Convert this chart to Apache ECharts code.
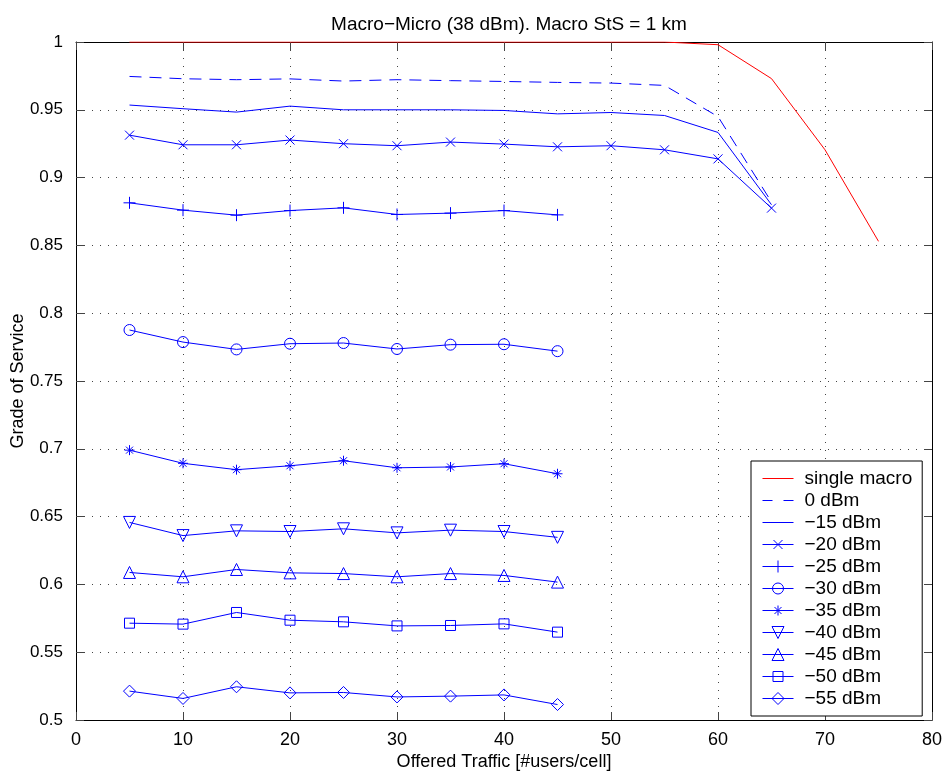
<!DOCTYPE html>
<html>
<head>
<meta charset="utf-8">
<script src="https://cdn.jsdelivr.net/npm/echarts@6/dist/echarts.min.js"></script>
<style>
html,body{margin:0;padding:0;background:#fff;}
#chart{width:946px;height:771px;}
</style>
</head>
<body>
<div id="chart"></div>
<script>
const xTicks = [0,10,20,30,40,50,60,70,80];
const yTicks = [0.5,0.55,0.6,0.65,0.7,0.75,0.8,0.85,0.9,0.95,1];

const xMacro = [5,10,15,20,25,30,35,40,45,50,55,60,65,70,75];
const singleMacro = [1,1,1,1,1,1,1,1,1,1,1,0.998,0.973,0.9205,0.853];

const xLong = [5,10,15,20,25,30,35,40,45,50,55,60,65];
const dbm0  = [0.9746,0.9729,0.9722,0.9728,0.9712,0.9722,0.9715,0.9709,0.9702,0.9697,0.968,0.945,0.882];
const dbm15 = [0.9535,0.9508,0.9483,0.9527,0.950,0.950,0.950,0.9495,0.947,0.948,0.9458,0.9333,0.880];
const dbm20 = [0.9313,0.9242,0.9242,0.9277,0.925,0.9235,0.9262,0.9247,0.9227,0.9235,0.9205,0.9138,0.8775];

const xShort = [5,10,15,20,25,30,35,40,45];
const dbm25 = [0.8814,0.876,0.8723,0.8757,0.8777,0.8728,0.8738,0.8757,0.8725];
const dbm30 = [0.7876,0.7787,0.7733,0.7775,0.778,0.7736,0.7768,0.7771,0.772];
const dbm35 = [0.699,0.6893,0.6846,0.6875,0.6912,0.686,0.6866,0.689,0.6816];
const dbm40 = [0.6457,0.636,0.6395,0.639,0.641,0.638,0.640,0.639,0.6347];
const dbm45 = [0.6088,0.6056,0.611,0.6085,0.608,0.6056,0.608,0.6066,0.6017];
const dbm50 = [0.5714,0.5707,0.5793,0.5736,0.5724,0.5694,0.5697,0.5709,0.5648];
const dbm55 = [0.5213,0.5159,0.5245,0.52,0.5203,0.517,0.5176,0.5185,0.5114];

const names = ['single macro','0 dBm','\u221215 dBm','\u221220 dBm','\u221225 dBm','\u221230 dBm','\u221235 dBm','\u221240 dBm','\u221245 dBm','\u221250 dBm','\u221255 dBm'];

const BLUE = '#0000ff', RED = '#ff0000';
const FONT = '"Liberation Sans", Arial, Helvetica, sans-serif';

function pairs(xs, ys){ return xs.map((x,i)=>[x, ys[i]]); }

const SYM_X = 'path://M0,0L10,10M10,0L0,10';
const SYM_PLUS = 'path://M5,0L5,10M0,5L10,5';
const SYM_STAR = 'path://M5,0L5,10M0,5L10,5M1.5,1.5L8.5,8.5M8.5,1.5L1.5,8.5';
const ICON_LINE = 'path://M0,0L31,0L31,1L0,1Z';
const ICON_DASH = 'path://M0,0L10,0L10,1L0,1ZM21,0L31,0L31,1L21,1Z';
const H = 'M0,6L31,6';
const LEG_ICONS = [
  null, null, null,
  'path://' + H + 'M11,1.5L20,10.5M20,1.5L11,10.5',
  'path://' + H + 'M15.5,0L15.5,12',
  'path://' + H + 'M21,6A5.5,5.5,0,1,1,10,6A5.5,5.5,0,1,1,21,6Z',
  'path://' + H + 'M15.5,1L15.5,11M10.5,6L20.5,6M12,2.5L19,9.5M19,2.5L12,9.5',
  'path://' + H + 'M9.5,0L21.5,0L15.5,12Z',
  'path://' + H + 'M15.5,0L21.5,12L9.5,12Z',
  'path://' + H + 'M10.5,1L20.5,1L20.5,11L10.5,11Z',
  'path://' + H + 'M15.5,0L21.5,6L15.5,12L9.5,6Z'
];

function mk(name, xs, ys, opts){
  const o = Object.assign({symbol:'none', size:10, rotate:0, color:BLUE, dash:'solid'}, opts||{});
  return {
    name: name,
    type: 'line',
    data: pairs(xs, ys),
    symbol: o.symbol,
    symbolSize: o.size,
    symbolRotate: o.rotate,
    showSymbol: o.symbol !== 'none',
    lineStyle: {color: o.color, width: 1, type: o.dash},
    itemStyle: {color: 'rgba(0,0,0,0)', borderColor: o.color, borderWidth: 1},
    emphasis: {disabled: true},
    animation: false,
    z: 3
  };
}

const series = [
  mk(names[0], xMacro, singleMacro, {color: RED}),
  mk(names[1], xLong, dbm0, {dash: [12, 8]}),
  mk(names[2], xLong, dbm15, {}),
  mk(names[3], xLong, dbm20, {symbol: SYM_X, size: 9}),
  mk(names[4], xShort, dbm25, {symbol: SYM_PLUS, size: 12}),
  mk(names[5], xShort, dbm30, {symbol: 'circle', size: 11}),
  mk(names[6], xShort, dbm35, {symbol: SYM_STAR, size: 10}),
  mk(names[7], xShort, dbm40, {symbol: 'triangle', size: 12, rotate: 180}),
  mk(names[8], xShort, dbm45, {symbol: 'triangle', size: 12}),
  mk(names[9], xShort, dbm50, {symbol: 'rect', size: 10}),
  mk(names[10], xShort, dbm55, {symbol: 'diamond', size: 12})
];

const legendData = names.map((n, i) => {
  if (i === 0) return {name: n, icon: ICON_LINE, itemStyle: {color: RED, borderWidth: 0}};
  if (i === 1) return {name: n, icon: ICON_DASH, itemStyle: {color: BLUE, borderWidth: 0}};
  if (i === 2) return {name: n, icon: ICON_LINE, itemStyle: {color: BLUE, borderWidth: 0}};
  return {name: n, icon: LEG_ICONS[i], itemStyle: {color: 'rgba(0,0,0,0)', borderColor: BLUE, borderWidth: 1}};
});

const chart = echarts.init(document.getElementById('chart'), null, {renderer: 'canvas'});
const gridStyle = {show: true, lineStyle: {color: '#444', width: 1, type: [1, 7]}};
chart.setOption({
  backgroundColor: '#fff',
  animation: false,
  textStyle: {fontFamily: FONT},
  title: {
    text: 'Macro\u2212Micro (38 dBm). Macro StS = 1 km',
    left: 504, textAlign: 'center', top: 10,
    textStyle: {fontFamily: FONT, fontSize: 19, fontWeight: 'normal', color: '#000'}
  },
  grid: {left: 76, right: 14, top: 42, bottom: 51, containLabel: false, outerBoundsMode: 'none'},
  legend: {
    orient: 'vertical',
    left: 751, top: 461,
    padding: [8, 10, 8, 11],
    itemWidth: 31, itemHeight: 12, itemGap: 3,
    borderColor: '#000', borderWidth: 1, backgroundColor: '#fff',
    selectedMode: false,
    textStyle: {fontFamily: FONT, fontSize: 19, color: '#000', padding: [0, 0, 0, 6]},
    data: legendData
  },
  xAxis: [{
    type: 'value', min: 0, max: 80, interval: 10,
    name: 'Offered Traffic [#users/cell]', nameLocation: 'middle', nameGap: 33,
    nameMoveOverlap: false,
    nameTextStyle: {fontFamily: FONT, fontSize: 18, color: '#000'},
    axisLine: {show: true, onZero: false, lineStyle: {color: '#000', width: 1}},
    axisTick: {show: true, inside: true, length: 8, lineStyle: {color: '#444'}},
    axisLabel: {fontFamily: FONT, fontSize: 18, color: '#000', margin: 11},
    splitLine: gridStyle
  }, {
    type: 'value', min: 0, max: 80, interval: 10, position: 'top',
    axisLine: {show: true, onZero: false, lineStyle: {color: '#000', width: 1}},
    axisTick: {show: true, inside: true, length: 8, lineStyle: {color: '#444'}},
    axisLabel: {show: false}, splitLine: {show: false}
  }],
  yAxis: [{
    type: 'value', min: 0.5, max: 1, interval: 0.05,
    name: 'Grade of Service', nameLocation: 'middle', nameGap: 49, nameRotate: 90,
    nameMoveOverlap: false,
    nameTextStyle: {fontFamily: FONT, fontSize: 18, color: '#000'},
    axisLine: {show: true, onZero: false, lineStyle: {color: '#000', width: 1}},
    axisTick: {show: true, inside: true, length: 8, lineStyle: {color: '#444'}},
    axisLabel: {fontFamily: FONT, fontSize: 17, color: '#000', margin: 13,
      formatter: v => String(+(+v).toFixed(2))},
    splitLine: gridStyle
  }, {
    type: 'value', min: 0.5, max: 1, interval: 0.05, position: 'right',
    axisLine: {show: true, onZero: false, lineStyle: {color: '#000', width: 1}},
    axisTick: {show: true, inside: true, length: 8, lineStyle: {color: '#444'}},
    axisLabel: {show: false}, splitLine: {show: false}
  }],
  series: series
});
</script>
</body>
</html>
